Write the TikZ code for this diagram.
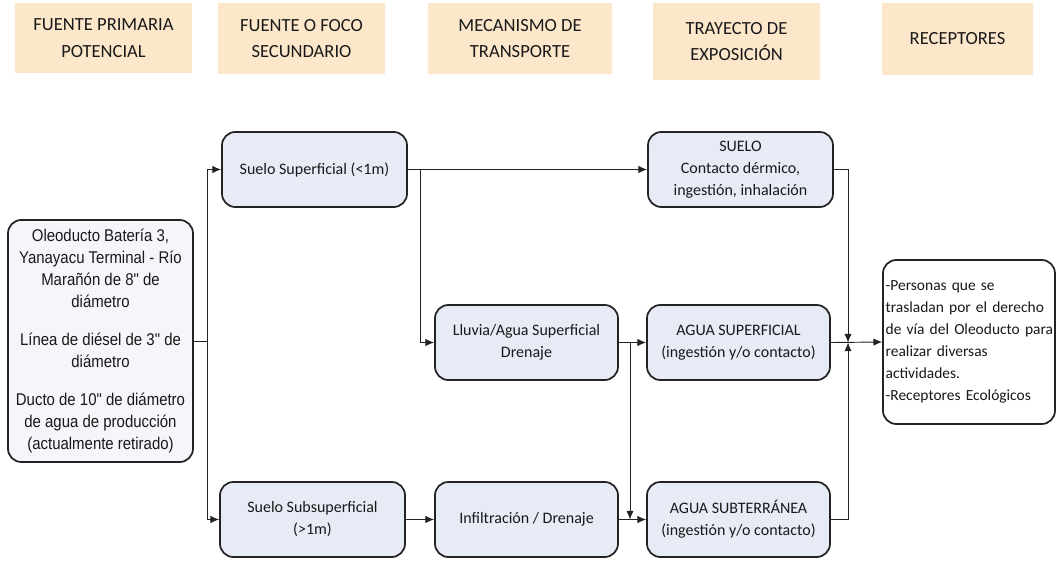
\documentclass[tikz,border=0pt]{standalone}
\usepackage{fontspec}
\setmainfont{Carlito}
\newfontfamily\narrowarial[FakeStretch=0.88]{Liberation Sans}
\usetikzlibrary{arrows.meta}
\definecolor{hdr}{RGB}{252,231,203}
\definecolor{bx}{RGB}{231,235,245}
\definecolor{ln}{RGB}{35,35,35}
\definecolor{txt}{RGB}{25,25,25}
\begin{document}
\begin{tikzpicture}[x=0.75pt,y=-0.75pt,
  hdrbox/.style={fill=hdr, align=center, font=\fontsize{13.9}{20}\selectfont, text=txt, inner sep=0pt},
  boxnode/.style={draw=ln, line width=1.3pt, rounded corners=10pt, fill=bx, align=center,
     font=\fontsize{12}{16.5}\selectfont, text=txt, minimum width=138pt, minimum height=56.25pt, inner sep=2pt},
  conn/.style={draw=ln, line width=0.7pt},
  arr/.style={conn, -{Latex[length=6.5pt,width=5.5pt]}}]
\useasboundingbox (0,0) rectangle (1057,562);
% headers
\node[hdrbox, minimum width=132.75pt, minimum height=52.5pt] (h1) at (103.5,38) {FUENTE PRIMARIA\\POTENCIAL};
\node[hdrbox, minimum width=125.25pt, minimum height=53.25pt] (h2) at (301.5,38.5) {FUENTE O FOCO\\SECUNDARIO};
\node[hdrbox, minimum width=138pt, minimum height=53.25pt] (h3) at (520,38.5) {MECANISMO DE\\TRANSPORTE};
\node[hdrbox, minimum width=125.25pt, minimum height=57.75pt] (h4) at (736.5,41.5) {TRAYECTO DE\\EXPOSICIÓN};
\node[hdrbox, minimum width=113.25pt, minimum height=54pt] (h5) at (957.5,39) {RECEPTORES};
% boxes
\node[boxnode, fill=bx!45!white, minimum width=138.75pt, minimum height=181.5pt,
  font=\narrowarial\fontsize{12.75}{16.5}\selectfont] (ole) at (100.5,341)
  {Oleoducto Batería 3,\\Yanayacu Terminal - Río\\Marañón de 8" de\\diámetro\\[12pt]Línea de diésel de 3" de\\diámetro\\[12pt]Ducto de 10" de diámetro\\de agua de producción\\(actualmente retirado)};
\node[boxnode, minimum width=138.75pt] (ss) at (314.5,169.5) {Suelo Superficial (<1m)};
\node[boxnode, minimum width=138.75pt] (sb) at (312.5,519.5) {Suelo Subsuperficial\\(>1m)};
\node[boxnode, minimum width=137.25pt] (ll) at (526.5,342.5) {Lluvia/Agua Superficial\\Drenaje};
\node[boxnode, minimum width=137.25pt] (inf) at (526.5,519.5) {Infiltración / Drenaje};
\node[boxnode, minimum width=138.75pt] (su) at (740.5,169.5) {SUELO\\Contacto dérmico,\\ingestión, inhalación};
\node[boxnode, minimum width=137.25pt] (asup) at (738.5,342.5) {AGUA SUPERFICIAL\\(ingestión y/o contacto)};
\node[boxnode, minimum width=137.25pt] (asub) at (738.5,519.5) {AGUA SUBTERRÁNEA\\(ingestión y/o contacto)};
\node[boxnode, fill=white, minimum width=129pt, minimum height=123pt, text width=125pt, align=left,
  font=\fontsize{11.6}{16.5}\selectfont] (rec) at (969,342)
  {\mbox{-Personas que se}\\\mbox{trasladan por el derecho}\\\mbox{de vía del Oleoducto para}\\\mbox{realizar diversas}\\\mbox{actividades.}\\\mbox{-Receptores Ecológicos}};
% junctions
\coordinate (j1) at (207,341);
\coordinate (j2) at (420,169.5);
\coordinate (j3) at (630,342.5);
\coordinate (j4) at (630,519.5);
\coordinate (j6) at (848,342.5);
% connectors
\draw[conn] (ole.east |- j1) -- (j1);
\draw[arr] (j1) |- (ss.west);
\draw[arr] (j1) |- (sb.west);
\draw[arr] (ss.east) -- (su.west);
\draw[arr] (j2) |- (ll.west);
\draw[arr] (sb.east) -- (inf.west);
\draw[arr] (ll.east) -- (asup.west);
\draw[arr] (j3) -- (j4);
\draw[arr] (inf.east) -- (asub.west);
\draw[arr] (su.east) -| (j6);
\draw[arr] (asub.east) -| (j6);
\draw[arr] (asup.east) -- (rec.west);
\end{tikzpicture}
\end{document}
